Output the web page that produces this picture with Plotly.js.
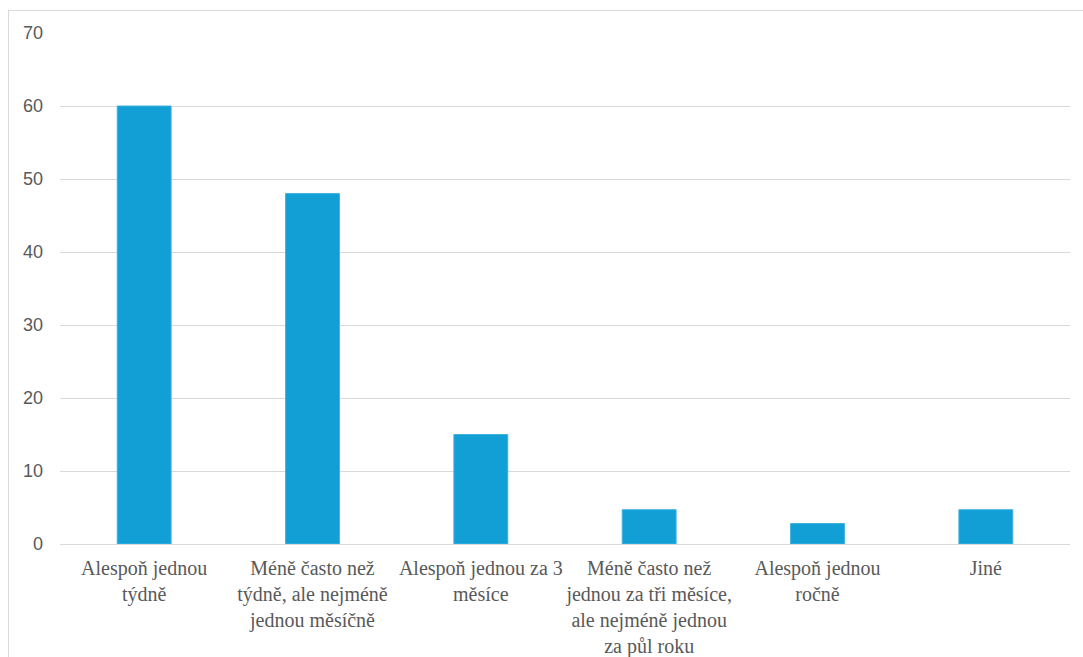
<!DOCTYPE html>
<html>
<head>
<meta charset="utf-8">
<script src="https://cdn.plot.ly/plotly-3.0.1.min.js"></script>
<style>
html,body{margin:0;padding:0;background:#fff;}
#frame{position:absolute;left:8px;top:10px;width:1075px;height:647px;border-left:1px solid #d9d9d9;border-top:1px solid #d9d9d9;}
#chart{position:absolute;left:0;top:0;width:1083px;height:657px;}
</style>
</head>
<body>
<div id="frame"></div>
<div id="chart"></div>
<script>
const categories = [
  "Alespoň jednou<br>týdně",
  "Méně často než<br>týdně, ale nejméně<br>jednou měsíčně",
  "Alespoň jednou za 3<br>měsíce",
  "Méně často než<br>jednou za tři měsíce,<br>ale nejméně jednou<br>za půl roku",
  "Alespoň jednou<br>ročně",
  "Jiné"
];
const values = [60, 48, 15, 4.7, 2.8, 4.7];
const yTicks = [0, 10, 20, 30, 40, 50, 60, 70];

const trace = {
  type: 'bar',
  x: categories,
  y: values,
  marker: {color: '#119fd6', line: {color: '#3fb2e0', width: 1}},
  hoverinfo: 'x+y'
};

const layout = {
  width: 1083,
  height: 657,
  margin: {l: 60, r: 13, t: 33, b: 113},
  paper_bgcolor: 'rgba(0,0,0,0)',
  plot_bgcolor: 'rgba(0,0,0,0)',
  bargap: 0.68,
  showlegend: false,
  xaxis: {
    type: 'category',
    showgrid: false,
    showline: false,
    zeroline: false,
    ticks: '',
    tickangle: 0,
    ticklabelstandoff: 10,
    tickfont: {family: "'Liberation Serif', 'Times New Roman', serif", size: 20, color: '#595959'}
  },
  yaxis: {
    range: [0, 70],
    tickvals: yTicks,
    ticktext: yTicks.map(String),
    showgrid: true,
    gridcolor: '#d9d9d9',
    gridwidth: 1,
    zeroline: true,
    zerolinecolor: '#d9d9d9',
    zerolinewidth: 1,
    showline: false,
    ticks: '',
    ticklabelstandoff: 16,
    tickfont: {family: "'Liberation Sans', Arial, sans-serif", size: 18, color: '#595959'}
  }
};

Plotly.newPlot('chart', [trace], layout, {displayModeBar: false, staticPlot: true});
</script>
</body>
</html>
